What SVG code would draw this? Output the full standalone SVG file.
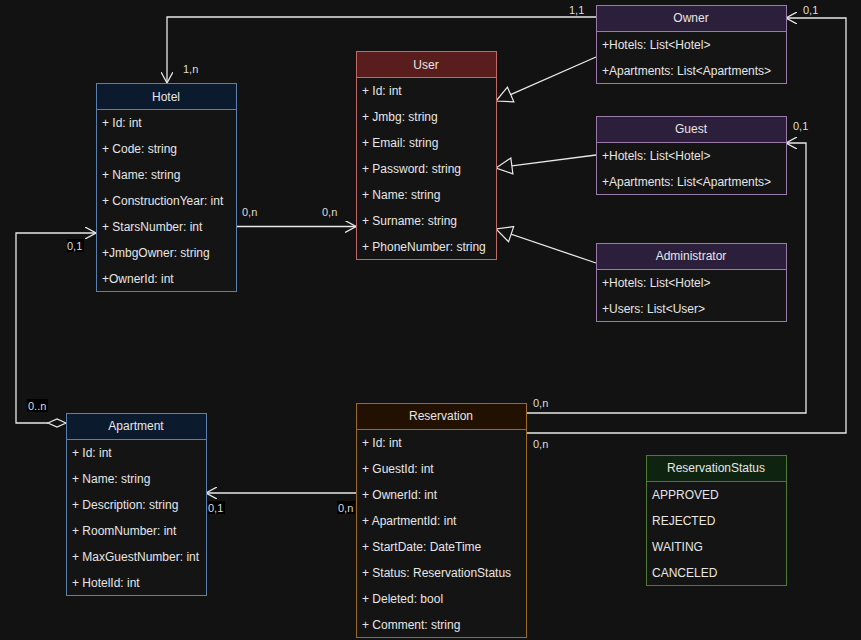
<svg xmlns="http://www.w3.org/2000/svg" width="861" height="640" viewBox="0 0 861 640">
  <defs>
    <style>
      text { font-family: "Liberation Sans", Arial, sans-serif; font-size: 12px; fill: #e6e6e6; }
      .hd { text-anchor: middle; }
      .body { fill: #141414; }
      .blue { stroke: #5d7fae; }
      .red { stroke: #c06a66; }
      .purple { stroke: #9a7aa8; }
      .brown { stroke: #9a6a20; }
      .green { stroke: #4f7a32; }
      .edge { fill: none; stroke: #e8e8e8; stroke-width: 1.3; }
      .lbl { font-size: 11px; fill: #dcdcdc; }
      .tag { fill: #000; }
    </style>
    <marker id="open" viewBox="0 0 12 12" refX="11" refY="6" markerWidth="12" markerHeight="12" markerUnits="userSpaceOnUse" orient="auto">
      <path d="M0,0 L11,6 L0,12" fill="none" stroke="#e8e8e8" stroke-width="1.3"/>
    </marker>
    <marker id="tri" viewBox="0 0 18 18" refX="17" refY="9" markerWidth="18" markerHeight="18" markerUnits="userSpaceOnUse" orient="auto">
      <path d="M1,1 L17,9 L1,17 Z" fill="#121212" stroke="#e8e8e8" stroke-width="1.2"/>
    </marker>
  </defs>

  <rect width="861" height="640" fill="#121212"/>

  <g id="connectors">
    <!-- Owner to Hotel -->
    <path class="edge" d="M596,17 H167 V83" marker-end="url(#open)"/>
    <!-- Hotel to User -->
    <path class="edge" d="M236,226.5 H356" marker-end="url(#open)"/>
    <!-- generalizations -->
    <path class="edge" d="M596,57 L496,101" marker-end="url(#tri)"/>
    <path class="edge" d="M596,155 L496,168" marker-end="url(#tri)"/>
    <path class="edge" d="M596,263 L496,229" marker-end="url(#tri)"/>
    <!-- Apartment aggregation in Hotel -->
    <path class="edge" d="M48,423 H16 V233 H96" marker-end="url(#open)"/>
    <path d="M66,423 L57,419 L48,423 L57,427 Z" fill="#121212" stroke="#e8e8e8" stroke-width="1.2"/>
    <!-- Reservation to Apartment -->
    <path class="edge" d="M356,493 H206" marker-end="url(#open)"/>
    <!-- Reservation to Guest -->
    <path class="edge" d="M526,413 H806 V143 H786" marker-end="url(#open)"/>
    <!-- Reservation to Owner -->
    <path class="edge" d="M526,433 H846 V18 H786" marker-end="url(#open)"/>

    <text class="lbl" x="569" y="14">1,1</text>
    <text class="lbl" x="183" y="73">1,n</text>
    <text class="lbl" x="242" y="216">0,n</text>
    <text class="lbl" x="322" y="216">0,n</text>
    <rect class="tag" x="67" y="239" width="17" height="13"/>
    <text class="lbl" x="67" y="250">0,1</text>
    <rect class="tag" x="27" y="399" width="21" height="13"/>
    <text class="lbl" x="28" y="410">0..n</text>
    <rect class="tag" x="208" y="501" width="17" height="13"/>
    <text class="lbl" x="208" y="512">0,1</text>
    <rect class="tag" x="337" y="501" width="18" height="13"/>
    <text class="lbl" x="338" y="512">0,n</text>
    <text class="lbl" x="533" y="407">0,n</text>
    <text class="lbl" x="533" y="448">0,n</text>
    <text class="lbl" x="793" y="130">0,1</text>
    <text class="lbl" x="803" y="14">0,1</text>
  </g>

  <g id="hotel">
    <rect class="body blue" x="96.5" y="83.5" width="140" height="208"/>
    <rect x="96.5" y="83.5" width="140" height="26" fill="#0c1a2e" class="blue"/>
    <text class="hd" x="166" y="101">Hotel</text>
    <text x="102" y="127">+ Id: int</text>
    <text x="102" y="153">+ Code: string</text>
    <text x="102" y="179">+ Name: string</text>
    <text x="102" y="205">+ ConstructionYear: int</text>
    <text x="102" y="231">+ StarsNumber: int</text>
    <text x="102" y="257">+JmbgOwner: string</text>
    <text x="102" y="283">+OwnerId: int</text>
  </g>

  <g id="user">
    <rect class="body red" x="356.5" y="51.5" width="140" height="208"/>
    <rect x="356.5" y="51.5" width="140" height="26" fill="#5a1d1d" class="red"/>
    <text class="hd" x="426" y="69">User</text>
    <text x="362" y="95">+ Id: int</text>
    <text x="362" y="121">+ Jmbg: string</text>
    <text x="362" y="147">+ Email: string</text>
    <text x="362" y="173">+ Password: string</text>
    <text x="362" y="199">+ Name: string</text>
    <text x="362" y="225">+ Surname: string</text>
    <text x="362" y="251">+ PhoneNumber: string</text>
  </g>

  <g id="owner">
    <rect class="body purple" x="596.5" y="5.5" width="190" height="78"/>
    <rect x="596.5" y="5.5" width="190" height="26" fill="#2c1f3c" class="purple"/>
    <text class="hd" x="691" y="22">Owner</text>
    <text x="602" y="49">+Hotels: List&lt;Hotel&gt;</text>
    <text x="602" y="75">+Apartments: List&lt;Apartments&gt;</text>
  </g>

  <g id="guest">
    <rect class="body purple" x="596.5" y="116.5" width="190" height="78"/>
    <rect x="596.5" y="116.5" width="190" height="26" fill="#2c1f3c" class="purple"/>
    <text class="hd" x="691" y="133">Guest</text>
    <text x="602" y="160">+Hotels: List&lt;Hotel&gt;</text>
    <text x="602" y="186">+Apartments: List&lt;Apartments&gt;</text>
  </g>

  <g id="administrator">
    <rect class="body purple" x="596.5" y="243.5" width="190" height="78"/>
    <rect x="596.5" y="243.5" width="190" height="26" fill="#2c1f3c" class="purple"/>
    <text class="hd" x="691" y="260">Administrator</text>
    <text x="602" y="287">+Hotels: List&lt;Hotel&gt;</text>
    <text x="602" y="313">+Users: List&lt;User&gt;</text>
  </g>

  <g id="apartment">
    <rect class="body blue" x="66.5" y="413.5" width="140" height="182"/>
    <rect x="66.5" y="413.5" width="140" height="26" fill="#0c1a2e" class="blue"/>
    <text class="hd" x="136" y="430">Apartment</text>
    <text x="72" y="457">+ Id: int</text>
    <text x="72" y="483">+ Name: string</text>
    <text x="72" y="509">+ Description: string</text>
    <text x="72" y="535">+ RoomNumber: int</text>
    <text x="72" y="561">+ MaxGuestNumber: int</text>
    <text x="72" y="587">+ HotelId: int</text>
  </g>

  <g id="reservation">
    <rect class="body brown" x="356.5" y="403.5" width="170" height="234"/>
    <rect x="356.5" y="403.5" width="170" height="26" fill="#221000" class="brown"/>
    <text class="hd" x="441" y="420">Reservation</text>
    <text x="362" y="447">+ Id: int</text>
    <text x="362" y="473">+ GuestId: int</text>
    <text x="362" y="499">+ OwnerId: int</text>
    <text x="362" y="525">+ ApartmentId: int</text>
    <text x="362" y="551">+ StartDate: DateTime</text>
    <text x="362" y="577">+ Status: ReservationStatus</text>
    <text x="362" y="603">+ Deleted: bool</text>
    <text x="362" y="629">+ Comment: string</text>
  </g>

  <g id="reservation-status">
    <rect class="body green" x="646.5" y="455.5" width="140" height="130"/>
    <rect x="646.5" y="455.5" width="140" height="26" fill="#0f2410" class="green"/>
    <text class="hd" x="716" y="472">ReservationStatus</text>
    <text x="652" y="499">APPROVED</text>
    <text x="652" y="525">REJECTED</text>
    <text x="652" y="551">WAITING</text>
    <text x="652" y="577">CANCELED</text>
  </g>
</svg>
